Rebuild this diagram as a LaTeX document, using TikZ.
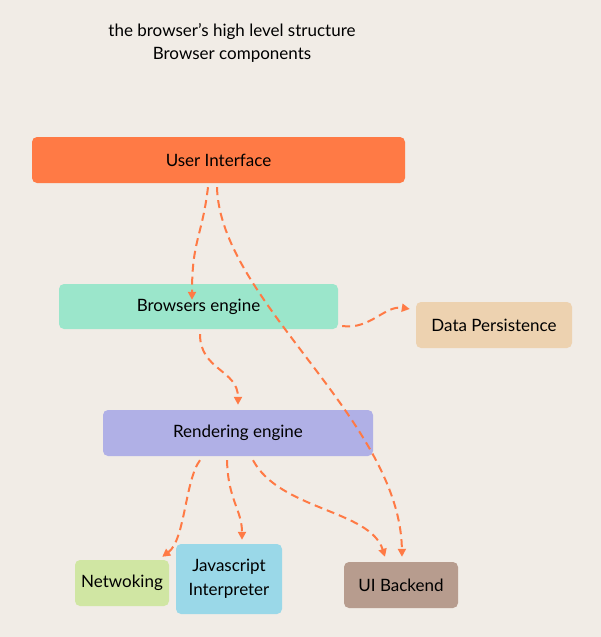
\documentclass[tikz,border=0pt]{standalone}
\usepackage{fontspec}
\setmainfont{Lato}
\usetikzlibrary{arrows.meta}

\definecolor{bgcol}{RGB}{241,236,230}
\definecolor{uicol}{RGB}{255,122,69}
\definecolor{becol}{RGB}{155,230,203}
\definecolor{dpcol}{RGB}{237,210,176}
\definecolor{recol}{RGB}{176,176,230}
\definecolor{netcol}{RGB}{208,230,163}
\definecolor{jscol}{RGB}{154,216,232}
\definecolor{uibcol}{RGB}{183,156,142}

\tikzset{
  comp/.style={rounded corners=5pt, inner sep=2pt, align=center, font=\fontsize{17}{24}\selectfont},
  flow/.style={draw=uicol, dashed, dash pattern=on 8pt off 5pt, line width=2pt, -{Triangle[length=8pt,width=8pt]}}
}

\begin{document}
\begin{tikzpicture}[x=1pt, y=-1pt]
\fill[bgcol] (0,0) rectangle (601,637);
\node[align=center, font=\fontsize{17}{23}\selectfont] (title) at (232,43) {the browser's high level structure\\Browser components};

\node[comp, fill=uicol, minimum width=373pt, minimum height=46pt] (ui) at (218.5,160) {User Interface};
\node[comp, fill=becol, minimum width=279pt, minimum height=45pt] (be) at (198.5,306.5) {Browsers engine};
\node[comp, fill=dpcol, minimum width=156pt, minimum height=46pt] (dp) at (494,325) {Data Persistence};
\node[comp, fill=recol, minimum width=270pt, minimum height=46pt] (re) at (238,433) {Rendering engine};
\node[comp, fill=netcol, minimum width=94pt, minimum height=46pt] (net) at (122,583) {Netwoking};
\node[comp, fill=jscol, minimum width=106pt, minimum height=70pt] (js) at (229,579) {Javascript\\Interpreter};
\node[comp, fill=uibcol, minimum width=114pt, minimum height=46pt] (uib) at (401,585) {UI Backend};

% arrows
\draw[flow] ([xshift=-10.5pt, yshift=-4pt]ui.south) .. controls +(-6,50) and +(0,-60) .. ([xshift=-6.5pt, yshift=-16pt]be.north);
\draw[flow] ([xshift=-1.5pt, yshift=-4pt]ui.south) .. controls +(3,113) and +(-2,-137) .. ([xshift=1pt, yshift=5pt]uib.north);
\draw[flow] ([xshift=1.5pt, yshift=-5pt]be.south) .. controls +(0,36) and +(0,-35) .. ([yshift=5pt]re.north);
\draw[flow] ([xshift=4pt, yshift=-19.5pt]be.east) .. controls +(28,4) and +(-25,-4) .. ([xshift=-6pt, yshift=16pt]dp.west);
\draw[flow] ([xshift=-38pt, yshift=-4pt]re.south) .. controls +(-15,20) and +(23,-17) .. ([xshift=-7pt, yshift=3pt]net.north east);
\draw[flow] ([xshift=-11pt, yshift=-4pt]re.south) .. controls +(1,40) and +(0,-30) .. ([xshift=13pt, yshift=4pt]js.north);
\draw[flow] ([xshift=15pt, yshift=-4pt]re.south) .. controls +(27,50) and +(-15,-47) .. ([xshift=-16pt, yshift=5pt]uib.north);
\end{tikzpicture}
\end{document}
